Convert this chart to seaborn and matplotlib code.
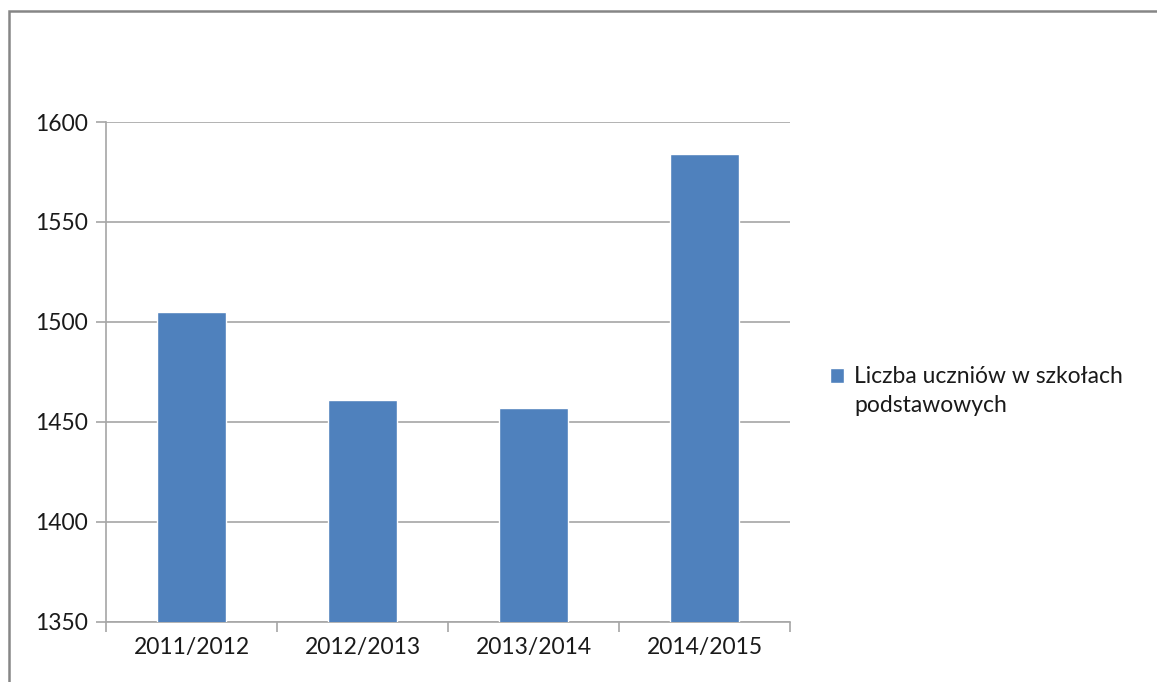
import matplotlib
matplotlib.use("Agg")
import matplotlib.pyplot as plt
import seaborn as sns
import pandas as pd
from matplotlib.patches import Rectangle

# data
years = ["2011/2012", "2012/2013", "2013/2014", "2014/2015"]
students = [1505, 1461, 1457, 1584]
series_label = "Liczba uczniów w szkołach\npodstawowych"

sns.set_style("white")
plt.rcParams["font.family"] = ["Lato", "DejaVu Sans"]

df = pd.DataFrame({"rok": years, "uczniowie": students})

fig = plt.figure(figsize=(11.57, 6.82), dpi=100)
ax = fig.add_axes([0.0916, 0.0884, 0.5912, 0.7327])

sns.barplot(data=df, x="rok", y="uczniowie", color="#4F81BD", width=0.4,
            saturation=1, label=series_label, ax=ax, zorder=3)

ax.set_ylim(1350, 1600)
ax.set_yticks([1350, 1400, 1450, 1500, 1550, 1600])
ax.set_xlim(-0.5, len(years) - 0.5)
ax.set_xlabel("")
ax.set_ylabel("")

# grid + spines
ax.yaxis.grid(True, color="#A6A6A6", linewidth=1.2, zorder=0)
ax.xaxis.grid(False)
for side in ["top", "right"]:
    ax.spines[side].set_visible(False)
for side in ["left", "bottom"]:
    ax.spines[side].set_color("#A6A6A6")
    ax.spines[side].set_linewidth(1.2)

# ticks: y outward, x at category boundaries
ax.tick_params(axis="y", length=7, width=1.2, color="#A6A6A6", labelsize=16.5, pad=6, left=True)
ax.tick_params(axis="x", which="major", length=0, labelsize=16.5, pad=11)
ax.set_xticks([i - 0.5 for i in range(len(years) + 1)], minor=True)
ax.tick_params(axis="x", which="minor", length=7, width=1.2, color="#A6A6A6", bottom=True)
for lab in ax.get_xticklabels() + ax.get_yticklabels():
    lab.set_color("#1A1A1A")

leg = ax.legend(loc="center left", bbox_to_anchor=(1.045, 0.462), frameon=False,
                fontsize=16.5, handlelength=0.6, handleheight=0.6, handletextpad=0.45,
                borderaxespad=0)
for t in leg.get_texts():
    t.set_color("#1A1A1A")
    t.set_linespacing(1.45)
# put the colour square next to the first line, as in the reference
h = leg.legend_handles[0]
h.set_y(h.get_y() + 11.5)

# outer chart-area frame (cut off on the right/bottom in the reference)
fig.patches.append(Rectangle((9 / 1157, -0.05), 1.2, 1 - 11 / 682 + 0.05,
                             transform=fig.transFigure, fill=False,
                             edgecolor="#868686", linewidth=1.8))

fig.savefig("out.png", dpi=100)
